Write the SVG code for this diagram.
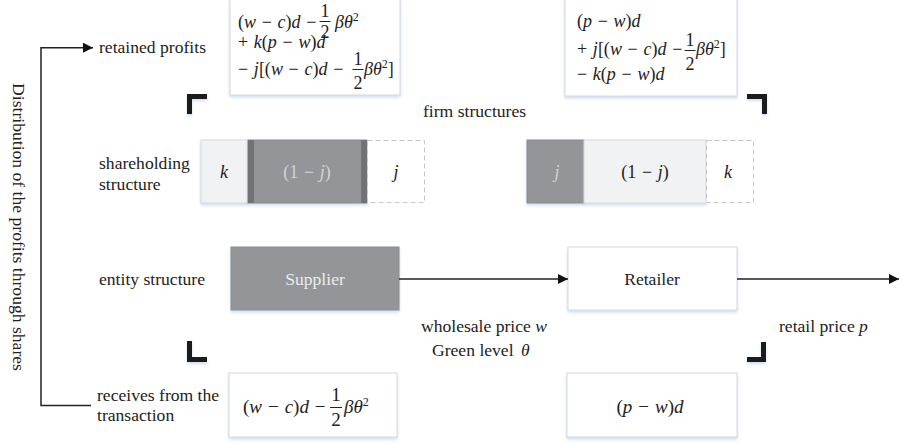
<svg xmlns="http://www.w3.org/2000/svg" width="899" height="444" viewBox="0 0 899 444">
<style>
.lbl{font-family:"Liberation Serif",serif;font-size:17.6px;fill:#222}
.m{font-family:"Liberation Serif",serif;font-size:18px;fill:#222;word-spacing:1.2px}
.mb{font-family:"Liberation Serif",serif;font-size:19px;fill:#222;word-spacing:1.2px}
.i{font-style:italic}
.sup{font-size:12px}
.box{fill:#fff;stroke:#d6d9de;stroke-width:1}
.dark{fill:#939598;stroke:#8a8c8f;stroke-width:1}
.strip{fill:#727376}
.light{fill:#f1f2f4;stroke:#d6d9de;stroke-width:1}
.dash{fill:#fff;stroke:#c6c6c6;stroke-width:1;stroke-dasharray:5 3}
.br{fill:none;stroke:#1b1b1b;stroke-width:5}
.conn{stroke:#222;stroke-width:1.5;fill:none}
.bar{stroke:#222;stroke-width:1}
.pale{fill:#d2d3d5}
</style>
<defs>
<filter id="sh" x="-10%" y="-10%" width="120%" height="140%">
<feDropShadow dx="0" dy="2" stdDeviation="1.5" flood-color="#8fb8e0" flood-opacity="0.45"/>
</filter>
<marker id="ah" viewBox="0 0 10 10" refX="10" refY="5" markerWidth="10" markerHeight="10" markerUnits="userSpaceOnUse" orient="auto">
<path d="M0,0 L10,5 L0,10 z" fill="#111"/>
</marker>
</defs>

<!-- left labels -->
<g id="labels">
<text class="lbl" x="99" y="53">retained profits</text>
<text class="lbl" x="99" y="169">shareholding</text>
<text class="lbl" x="99" y="190">structure</text>
<text class="lbl" x="99" y="285">entity structure</text>
<text class="lbl" x="97" y="401">receives from the</text>
<text class="lbl" x="97" y="421">transaction</text>
<text class="lbl" text-anchor="middle" transform="translate(12.5,227) rotate(90)">Distribution of the profits through shares</text>
<text class="lbl" x="423" y="117">firm structures</text>
</g>

<!-- brackets -->
<g id="brackets" filter="url(#sh)">
<path class="br" d="M189.5,114 V96.5 H207"/>
<path class="br" d="M747,96.5 H764.5 V114"/>
<path class="br" d="M189.5,341 V359.5 H207"/>
<path class="br" d="M747,359.5 H763.5 V342"/>
</g>

<!-- top-left retained profits box -->
<g id="supplier-retained">
<rect class="box" x="230" y="-2" width="170" height="97" filter="url(#sh)"/>
<text class="m" x="238" y="28">(<tspan class="i">w</tspan> − <tspan class="i">c</tspan>)<tspan class="i">d</tspan> −</text>
<text class="m" x="325" y="17" text-anchor="middle">1</text>
<line class="bar" x1="319.5" y1="21.5" x2="330.5" y2="21.5"/>
<text class="m" x="325" y="38" text-anchor="middle">2</text>
<text class="m" x="335" y="28"><tspan class="i">βθ</tspan><tspan class="sup" dy="-7">2</tspan></text>
<text class="m" x="238" y="48">+ <tspan class="i">k</tspan>(<tspan class="i">p</tspan> − <tspan class="i">w</tspan>)<tspan class="i">d</tspan></text>
<text class="m" x="238" y="75">− <tspan class="i">j</tspan>[(<tspan class="i">w</tspan> − <tspan class="i">c</tspan>)<tspan class="i">d</tspan> −</text>
<text class="m" x="358" y="65" text-anchor="middle">1</text>
<line class="bar" x1="352.5" y1="69.5" x2="363.5" y2="69.5"/>
<text class="m" x="358" y="89" text-anchor="middle">2</text>
<text class="m" x="364" y="75"><tspan class="i">βθ</tspan><tspan class="sup" dy="-7">2</tspan><tspan dy="7">]</tspan></text>
</g>

<!-- top-right retained profits box -->
<g id="retailer-retained">
<rect class="box" x="565" y="-2" width="172" height="98" filter="url(#sh)"/>
<text class="m" x="577" y="27">(<tspan class="i">p</tspan> − <tspan class="i">w</tspan>)<tspan class="i">d</tspan></text>
<text class="m" x="577" y="55">+ <tspan class="i">j</tspan>[(<tspan class="i">w</tspan> − <tspan class="i">c</tspan>)<tspan class="i">d</tspan> −</text>
<text class="m" x="690" y="46" text-anchor="middle">1</text>
<line class="bar" x1="684.5" y1="50.5" x2="695.5" y2="50.5"/>
<text class="m" x="690" y="70" text-anchor="middle">2</text>
<text class="m" x="696" y="55"><tspan class="i">βθ</tspan><tspan class="sup" dy="-7">2</tspan><tspan dy="7">]</tspan></text>
<text class="m" x="577" y="80">− <tspan class="i">k</tspan>(<tspan class="i">p</tspan> − <tspan class="i">w</tspan>)<tspan class="i">d</tspan></text>
</g>

<!-- supplier shareholding -->
<g id="supplier-shares">
<rect class="light" x="201" y="140" width="47" height="63" filter="url(#sh)"/>
<rect class="dark" x="248" y="140" width="119" height="63" filter="url(#sh)"/>
<rect class="strip" x="248" y="140" width="6" height="63"/>
<rect class="strip" x="361" y="140" width="6" height="63"/>
<rect class="dash" x="367.5" y="140.5" width="57" height="62"/>
<text class="m i" x="224" y="178" text-anchor="middle">k</text>
<text class="m pale" x="307" y="178" text-anchor="middle">(1 − <tspan class="i">j</tspan>)</text>
<text class="m i" x="396" y="178" text-anchor="middle">j</text>
</g>

<!-- retailer shareholding -->
<g id="retailer-shares">
<rect class="dark" x="527" y="140" width="57" height="63" filter="url(#sh)"/>
<rect class="light" x="584" y="140" width="122" height="63" filter="url(#sh)"/>
<rect class="dash" x="706.5" y="140.5" width="47" height="62"/>
<text class="m i pale" x="557" y="178" text-anchor="middle">j</text>
<text class="m" x="645" y="178" text-anchor="middle">(1 − <tspan class="i">j</tspan>)</text>
<text class="m i" x="728" y="178" text-anchor="middle">k</text>
</g>

<!-- entities -->
<g id="supplier">
<rect class="dark" x="231" y="247" width="168" height="63" filter="url(#sh)"/>
<text class="lbl" x="315" y="285" text-anchor="middle" style="fill:#ececec">Supplier</text>
</g>
<g id="retailer">
<rect class="box" x="568" y="247" width="169" height="63" filter="url(#sh)"/>
<text class="lbl" x="652" y="285" text-anchor="middle">Retailer</text>
</g>

<!-- bottom boxes -->
<g id="supplier-receives">
<rect class="box" x="229" y="373" width="168" height="64" filter="url(#sh)"/>
<text class="mb" x="243" y="413">(<tspan class="i">w</tspan> − <tspan class="i">c</tspan>)<tspan class="i">d</tspan> −</text>
<text class="mb" x="336" y="401" text-anchor="middle">1</text>
<line class="bar" x1="330" y1="407.5" x2="342" y2="407.5"/>
<text class="mb" x="336" y="426" text-anchor="middle">2</text>
<text class="mb" x="344" y="413"><tspan class="i">βθ</tspan><tspan class="sup" dy="-7">2</tspan></text>
</g>
<g id="retailer-receives">
<rect class="box" x="567" y="373" width="170" height="64" filter="url(#sh)"/>
<text class="mb" x="650" y="413" text-anchor="middle">(<tspan class="i">p</tspan> − <tspan class="i">w</tspan>)<tspan class="i">d</tspan></text>
</g>

<!-- connectors -->
<g id="connectors">
<path class="conn" d="M91,405.5 H41 V47.7 H93" marker-end="url(#ah)"/>
<path class="conn" d="M399,279 H568" marker-end="url(#ah)"/>
<path class="conn" d="M737,279 H899" marker-end="url(#ah)"/>
<text class="lbl" x="484" y="332" text-anchor="middle">wholesale price <tspan class="i">w</tspan></text>
<text class="lbl" x="432" y="356">Green level  <tspan class="i" x="521">θ</tspan></text>
<text class="lbl" x="779" y="332">retail price <tspan class="i">p</tspan></text>
</g>
</svg>
